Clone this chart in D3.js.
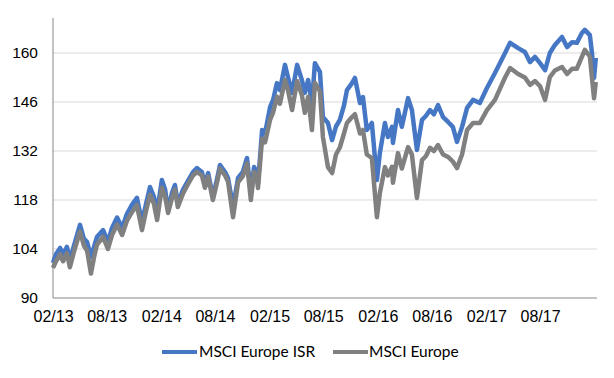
<!DOCTYPE html>
<html><head><meta charset="utf-8">
<script src="https://cdn.jsdelivr.net/npm/d3@7"></script>
<style>html,body{margin:0;padding:0;background:#fff;}svg{display:block;}
.ax text{font-family:"Liberation Sans",Arial,sans-serif;fill:#000;}
.lg text{font-family:Lato,"Open Sans",sans-serif;fill:#000;}
</style>
</head><body>
<svg id="chart" width="614" height="378"></svg>
<script>
const dates = ["2013-02-01","2013-02-11","2013-02-25","2013-03-07","2013-03-20","2013-03-30","2013-04-13","2013-05-03","2013-05-16","2013-05-27","2013-06-09","2013-06-19","2013-06-29","2013-07-20","2013-08-05","2013-08-19","2013-09-05","2013-09-22","2013-10-08","2013-10-25","2013-11-11","2013-11-28","2013-12-12","2013-12-25","2014-01-07","2014-01-18","2014-02-03","2014-02-14","2014-02-24","2014-03-09","2014-03-19","2014-03-29","2014-04-15","2014-05-02","2014-05-19","2014-06-01","2014-06-18","2014-06-28","2014-07-09","2014-07-25","2014-08-08","2014-08-18","2014-09-04","2014-09-14","2014-10-01","2014-10-18","2014-11-03","2014-11-17","2014-11-30","2014-12-11","2014-12-21","2014-12-24","2015-01-07","2015-01-17","2015-02-03","2015-02-13","2015-02-26","2015-03-08","2015-03-25","2015-04-04","2015-04-18","2015-05-05","2015-05-21","2015-05-31","2015-06-11","2015-06-24","2015-07-04","2015-07-21","2015-07-31","2015-08-17","2015-08-31","2015-09-13","2015-09-26","2015-10-10","2015-10-20","2015-11-06","2015-11-16","2015-12-03","2015-12-13","2015-12-26","2016-01-12","2016-01-29","2016-02-08","2016-02-25","2016-03-06","2016-03-20","2016-03-23","2016-04-09","2016-04-22","2016-05-13","2016-05-26","2016-06-12","2016-06-29","2016-07-12","2016-07-26","2016-08-08","2016-08-22","2016-09-08","2016-09-25","2016-10-11","2016-10-25","2016-11-11","2016-11-28","2016-12-18","2017-01-10","2017-02-03","2017-03-02","2017-04-05","2017-04-22","2017-05-19","2017-06-11","2017-06-28","2017-07-15","2017-08-01","2017-08-18","2017-09-03","2017-09-20","2017-10-14","2017-10-31","2017-11-17","2017-12-03","2017-12-20","2017-12-30","2018-01-16","2018-01-23","2018-01-30","2018-02-05"];

const isrValues = [100,102.5,104.3,102.5,104.6,100.9,105,110.9,107,106,101.7,104.5,107.4,109.4,106,110,113,110,114,116.6,118.6,111.7,117,121.7,119,114.6,123.7,121,115,120,122.3,117,120.9,123.5,126,127.1,126,122.3,125.7,118.9,124,128,126,124.3,116,124.3,126,130,120,127.4,126,122.5,138,137.1,144.6,146.6,151.4,149.4,156.6,153.1,148.6,156.6,152.3,148.6,152.3,145.7,157.1,154.6,141.7,140,135.1,139,140.9,145,149.4,151.4,152.9,145.7,147.4,138,140,123.7,131.4,140,136,138.9,134.3,143.7,138.9,147.1,143.7,132.3,140.9,142,143.7,142.5,145.1,141.7,140.3,138.9,134.6,138.9,144.3,146.6,145.7,150,154.3,160,162.9,161.4,160.3,157.4,158.9,157.1,155.1,160,162.3,164.6,161.7,163.1,162.9,165.7,166.6,165.1,160,152.9,158.6];

const europeValues = [98.6,100.5,102.5,100.5,102.8,98.8,103.3,109,105,103.5,97,101.5,105.2,107.5,104,108,111,108,112,114.5,116.5,109.4,115,119.5,117,112.3,121.5,119,114.3,118.5,121,116,119.8,122.5,125,126,125,121.5,124.7,118,123,127,125,123.3,113.1,123,124.8,128.5,118,126,124.5,121.4,135.5,134.5,141,143,147.5,145.5,152.3,149.5,143.7,152,148,142.9,147.5,138,151.5,149,136,127.4,125.7,131,133,137,140,141.7,142.5,137,138,131,130,113.1,120,127.4,125,127.5,122.9,131.4,127,133.1,131,118.6,129.4,130.5,132.9,132,133.7,131,130.3,129,127.1,131,138,140,140,143.7,146.6,153,155.7,154,153,150.9,152,150.5,146.6,153.1,155,156,154,155.5,155.5,158.9,160.9,159,153,147.1,151.7];

const seriesNames = ["MSCI Europe ISR","MSCI Europe"];
const yTicks = [90,104,118,132,146,160];
const xTickDates = ["2013-02-01","2013-08-01","2014-02-01","2014-08-01","2015-02-01","2015-08-01","2016-02-01","2016-08-01","2017-02-01","2017-08-01"];

const parse = d3.timeParse("%Y-%m-%d");
const svg = d3.select("#chart");
const mLeft = 53, mRight = 597, mTop = 18, mBottom = 298;

const x = d3.scaleTime().domain([parse("2013-02-01"), parse("2018-02-09")]).range([mLeft, mRight]);
const y = d3.scaleLinear().domain([90,170]).range([mBottom, mTop]);

// gridlines
svg.append("g").selectAll("line").data(yTicks.filter(v => v > 90)).join("line")
  .attr("x1", mLeft).attr("x2", mRight)
  .attr("y1", d => y(d)).attr("y2", d => y(d))
  .attr("stroke", "#d9d9d9").attr("stroke-width", 1);

// y axis
const yAxis = d3.axisLeft(y).tickValues(yTicks).tickSize(0).tickPadding(15);
const gy = svg.append("g").attr("class", "ax").attr("transform", `translate(${mLeft},0)`).call(yAxis);
gy.attr("font-family", null);
gy.select(".domain").remove();
gy.selectAll("text").style("font-size", "15.5px");
svg.append("line").attr("x1", mLeft).attr("x2", mLeft).attr("y1", y(170)).attr("y2", y(90))
  .attr("stroke", "#868686").attr("stroke-width", 1);

// x axis
const xAxis = d3.axisBottom(x).tickValues(xTickDates.map(parse)).tickFormat(d3.timeFormat("%m/%y")).tickSize(0).tickPadding(13);
const gx = svg.append("g").attr("class", "ax").attr("transform", `translate(0,${mBottom})`).call(xAxis);
gx.attr("font-family", null);
gx.select(".domain").remove();
gx.selectAll("text").style("font-size", "16px");
svg.append("line").attr("x1", mLeft).attr("x2", mRight).attr("y1", mBottom).attr("y2", mBottom)
  .attr("stroke", "#868686").attr("stroke-width", 1);

const colors = ["#4677c4", "#808080"];
const seriesData = [isrValues, europeValues];
const line = d3.line().x(d => x(d[0])).y(d => y(d[1]));
seriesData.forEach((vals, i) => {
  const pts = dates.map((d, j) => [parse(d), vals[j]]);
  svg.append("path").datum(pts).attr("d", line)
    .attr("fill", "none").attr("stroke", colors[i]).attr("stroke-width", 4.5)
    .attr("stroke-linejoin", "round");
});

// legend
const lg = svg.append("g").attr("class", "lg");
const legendItems = [{x0: 162, tx: 199}, {x0: 333, tx: 369}];
legendItems.forEach((it, i) => {
  lg.append("line").attr("x1", it.x0).attr("x2", it.x0 + 35).attr("y1", 352).attr("y2", 352)
    .attr("stroke", colors[i]).attr("stroke-width", 4);
  lg.append("text").attr("x", it.tx).attr("y", 357).style("font-size", "15.5px").text(seriesNames[i]);
});
</script>
</body></html>
